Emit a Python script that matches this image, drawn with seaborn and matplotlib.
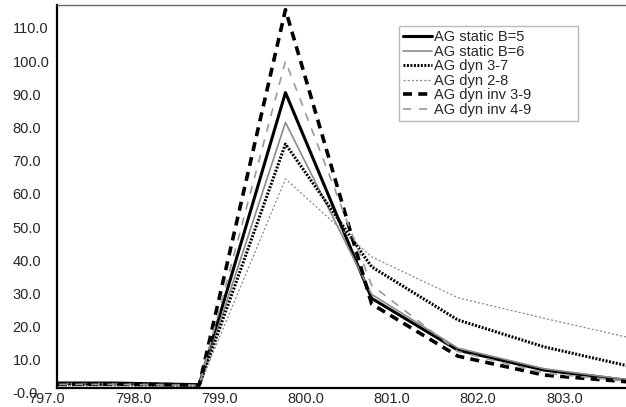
import numpy as np
import pandas as pd
import seaborn as sns
import matplotlib
matplotlib.use("Agg")
import matplotlib.pyplot as plt
from matplotlib.transforms import ScaledTranslation

# values
x_vals = [796.65, 797.65, 798.65, 799.65, 800.65, 801.65, 802.65, 803.65]
static_b5 = [1.5, 1.5, 1.0, 89.0, 27.0, 11.4, 5.4, 2.2]
static_b6 = [1.3, 1.3, 0.9, 80.0, 28.2, 12.0, 5.8, 2.4]
dyn_3_7 = [1.0, 1.0, 0.8, 73.5, 36.5, 20.5, 12.4, 6.5]
dyn_2_8 = [0.7, 0.7, 0.6, 63.0, 39.5, 27.2, 21.0, 15.1]
dyn_inv_3_9 = [1.2, 1.2, 0.9, 114.0, 25.3, 9.6, 3.9, 1.8]
dyn_inv_4_9 = [1.1, 1.1, 0.8, 98.5, 31.0, 11.0, 4.5, 2.0]

labels = ["AG static B=5", "AG static B=6", "AG dyn 3-7", "AG dyn 2-8",
          "AG dyn inv 3-9", "AG dyn inv 4-9"]
xticks = [797, 798, 799, 800, 801, 802, 803]
yticks = [0, 10, 20, 30, 40, 50, 60, 70, 80, 90, 100, 110]
ytick_labels = ["-0.0"] + ["%.1f" % v for v in yticks[1:]]

sns.set_style("white")
plt.rcParams['font.family'] = ['Liberation Sans', 'DejaVu Sans']
plt.rcParams['lines.scale_dashes'] = False

fig = plt.figure(figsize=(6.26, 4.07), dpi=100)
ax = fig.add_axes([57 / 626, 19 / 407, 1 - 57 / 626, 383 / 407])

series = [static_b5, static_b6, dyn_3_7, dyn_2_8, dyn_inv_3_9, dyn_inv_4_9]
styles = [
    dict(color="black", lw=2.2, linestyle="-"),
    dict(color="#8a8a8a", lw=1.2, linestyle="-"),
    dict(color="black", lw=2.2, linestyle=(0, (1.4, 1.1))),
    dict(color="#8a8a8a", lw=0.9, linestyle=(0, (1.5, 1.5))),
    dict(color="black", lw=2.6, linestyle=(0, (6.5, 4.5))),
    dict(color="#9a9a9a", lw=1.2, linestyle=(0, (5.8, 5.8))),
]
for vals, lab, st in zip(series, labels, styles):
    sns.lineplot(x=x_vals, y=vals, ax=ax, label=lab, **st)

ax.set_xlim(797.0, 803.6)
ax.set_ylim(0, 115.4)
ax.set_xticks(xticks)
ax.set_xticklabels(["%.1f" % v for v in xticks], fontsize=10.5)
ax.set_yticks(yticks)
ax.set_yticklabels(ytick_labels, fontsize=10.5, ha="left")
ax.tick_params(axis="both", length=0)
ax.tick_params(axis="x", pad=3)
ax.tick_params(axis="y", pad=32)

# labels in the reference sit a little off their ticks
for t in ax.get_xticklabels():
    t.set_transform(t.get_transform() + ScaledTranslation(-10 / 100, 0, fig.dpi_scale_trans))
for t in ax.get_yticklabels():
    t.set_transform(t.get_transform() + ScaledTranslation(0, -5 / 100, fig.dpi_scale_trans))

for side in ["left", "bottom"]:
    ax.spines[side].set_color("black")
    ax.spines[side].set_linewidth(1.6)
ax.spines["top"].set_color("#666666")
ax.spines["top"].set_linewidth(1.0)
ax.spines["right"].set_visible(False)

leg = ax.legend(loc="upper left", bbox_to_anchor=(0.601, 0.0, 0.315, 0.945),
                mode="expand", fontsize=10.5, frameon=True, fancybox=False,
                handlelength=1.95, handletextpad=0.15, labelspacing=0.03,
                borderpad=0.3, borderaxespad=0)
leg.get_frame().set_edgecolor("#aaaaaa")
leg.get_frame().set_linewidth(1.0)

ax.set_xlabel("")
ax.set_ylabel("")
plt.savefig("out.png", dpi=100)
